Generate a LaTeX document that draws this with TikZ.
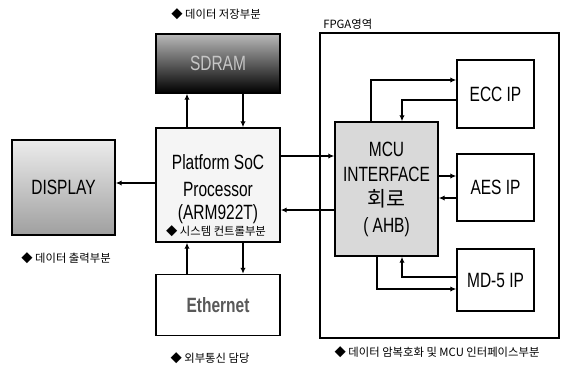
\documentclass[tikz,border=0pt]{standalone}
\usepackage{fontspec}
\setmainfont[FakeStretch=0.75]{Liberation Sans}
\newfontfamily\kor{Noto Sans CJK KR}
\usetikzlibrary{arrows.meta}

\begin{document}
\begin{tikzpicture}[x=0.75pt, y=-0.75pt, >={Latex[length=4.5pt, width=4pt]},
	box/.style={draw, line width=1.1pt, inner sep=0pt, font=\fontsize{15.5}{19}\selectfont},
	txt/.style={font=\fontsize{15.5}{19}\selectfont, inner sep=0pt},
	lbl/.style={font=\kor\fontsize{8.5}{10}\selectfont, inner sep=0pt},
	arr/.style={->, line width=1.4pt},
	link/.style={->, line width=1pt}]
	\useasboundingbox (0,0) rectangle (563,369);
	% left side
	\node[box, top color=gray!55, bottom color=black, minimum width=93pt, minimum height=44.25pt, text=gray!45] (sdram) at (218,63.5) {SDRAM};
	\node[lbl] (sdramlbl) at (216,14) {◆ 데이터 저장부분};
	\node[box, fill=gray!8, minimum width=93pt, minimum height=85.5pt] (plat) at (218,185) {};
	\node[txt] (platA) at (218,162) {Platform SoC};
	\node[txt] (platB) at (218,189) {Processor};
	\node[txt] (platC) at (218,214) {(ARM922T)};
	\node[lbl] (platlbl) at (216,231) {◆ 시스템 컨트롤부분};
	\node[box, fill=white, minimum width=93pt, minimum height=45.75pt, text=black!65, font=\bfseries\fontsize{15.5}{19}\selectfont] (eth) at (218,305) {Ethernet};
	\node[lbl] (ethlbl) at (210,358) {◆ 외부통신 담당};
	\node[box, top color=gray!15, bottom color=gray!75, minimum width=77.25pt, minimum height=71.25pt] (disp) at (63.5,187.5) {DISPLAY};
	\node[lbl] (displbl) at (66,258) {◆ 데이터 출력부분};
	% FPGA region
	\node[draw, line width=0.9pt, fill=white, minimum width=179.25pt, minimum height=228.75pt] (fpga) at (439.5,185.5) {};
	\node[lbl, anchor=west] (fpgalbl) at (323,24) {FPGA영역};
	\node[box, fill=gray!30, minimum width=77.25pt, minimum height=100.5pt, align=center] (mcu) at (386.5,189) {MCU\\INTERFACE\\{\kor 회로}\\( AHB)};
	\node[box, fill=white, minimum width=57.75pt, minimum height=51pt] (ecc) at (495.5,94) {ECC IP};
	\node[box, fill=white, minimum width=57.75pt, minimum height=50.25pt] (aes) at (495.5,187.5) {AES IP};
	\node[box, fill=white, minimum width=57.75pt, minimum height=46.5pt] (md5) at (495.5,280) {MD-5 IP};
	\node[lbl] (fpgalbl2) at (437,352) {◆ 데이터 암복호화 및 MCU 인터페이스부분};
	% connectors
	\draw[arr] (187,0 |- plat.north) -- (187,0 |- sdram.south);
	\draw[arr] (243,0 |- sdram.south) -- (243,0 |- plat.north);
	\draw[arr] (187,0 |- eth.north) -- (187,0 |- plat.south);
	\draw[arr] (243,0 |- plat.south) -- (243,0 |- eth.north);
	\draw[arr] (plat.west |- 0,183) -- (disp.east |- 0,183);
	\draw[arr] (plat.east |- 0,156) -- (mcu.west |- 0,156);
	\draw[arr] (mcu.west |- 0,210) -- (plat.east |- 0,210);
	\draw[link] (371,0 |- mcu.north) |- (ecc.west |- 0,80);
	\draw[link] (ecc.west |- 0,100) -| (402,0 |- mcu.north);
	\draw[link] (mcu.east |- 0,176) -- (aes.west |- 0,176);
	\draw[link] (aes.west |- 0,198) -- (mcu.east |- 0,198);
	\draw[link] (377,0 |- mcu.south) |- (md5.west |- 0,289);
	\draw[link] (md5.west |- 0,277) -| (402,0 |- mcu.south);
\end{tikzpicture}
\end{document}
